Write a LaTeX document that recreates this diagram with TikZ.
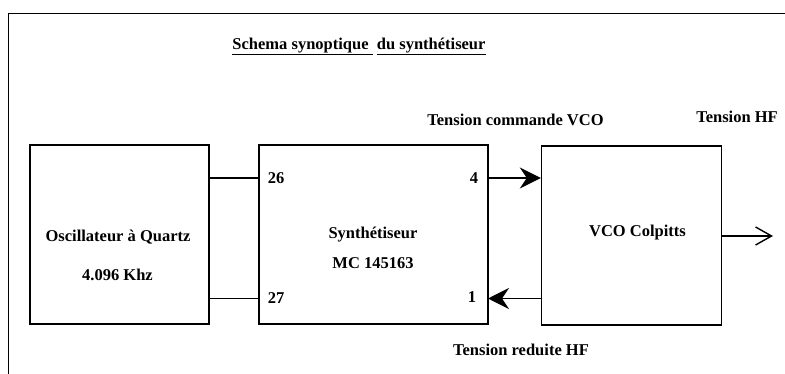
\documentclass[tikz,border=0pt]{standalone}
\usepackage{fontspec}
\setmainfont{Liberation Serif}
\usetikzlibrary{arrows.meta}
\begin{document}
\begin{tikzpicture}[x=1pt,y=-1pt,
	bloc/.style={draw, line width=1.4pt, inner sep=0pt},
	lbl/.style={font=\bfseries\fontsize{16.5}{19}\selectfont, inner sep=0pt, text depth=0pt},
	fleche/.style={line width=1.4pt, -{Stealth[length=21pt, width=21pt, inset=7pt]}},
	sortie/.style={line width=1.4pt, -{Straight Barb[length=16pt, width=18pt]}}]
			\useasboundingbox (0,0) rectangle (785,374);
			\draw[line width=1pt] (8,374) -- (8,14) -- (785,14);
			% les trois blocs
			\node[bloc, minimum width=179pt, minimum height=179pt] (osc) at (119.5,234.5) {};
			\node[bloc, minimum width=229pt, minimum height=179pt] (synth) at (373.5,234.5) {};
			\node[bloc, minimum width=180pt, minimum height=179pt] (vco) at (631.5,235.5) {};
			\coordinate (p26) at (259,178);
			\coordinate (p27) at (259,298.5);
			\coordinate (p4) at (488,178);
			\coordinate (p1) at (488,298.5);
			\coordinate (hf) at (773,236);
			\draw[line width=1.4pt] (osc.east |- p26) -- (p26);
			\draw[line width=1.4pt] (osc.east |- p27) -- (p27);
			\draw[fleche] (p4) -- (vco.west |- p4);
			\draw[fleche] (vco.west |- p1) -- (p1);
			\draw[sortie] (vco.east |- hf) -- (hf);
			% textes
			\node[lbl] (titre) at (359,44) {\underline{Schema synoptique\ }\ \underline{du synthétiseur}};
			\node[lbl] (osctxt) at (118,236) {Oscillateur à Quartz};
			\node[lbl] (oscfreq) at (117.5,275) {4.096 Khz};
			\node[lbl] (synthtxt) at (373,233) {Synthétiseur};
			\node[lbl] (synthref) at (373,263) {MC 145163};
			\node[lbl] (vcotxt) at (637.5,231) {VCO Colpitts};
			\node[lbl] (n26) at (276,178) {26};
			\node[lbl] (n27) at (276,298) {27};
			\node[lbl] (n4) at (474,178) {4};
			\node[lbl] (n1) at (472,297) {1};
			\node[lbl] (cmd) at (515.5,120) {Tension commande VCO};
			\node[lbl] (thf) at (737,117) {Tension HF};
			\node[lbl] (red) at (521,350) {Tension reduite HF};
		\end{tikzpicture}
\end{document}
